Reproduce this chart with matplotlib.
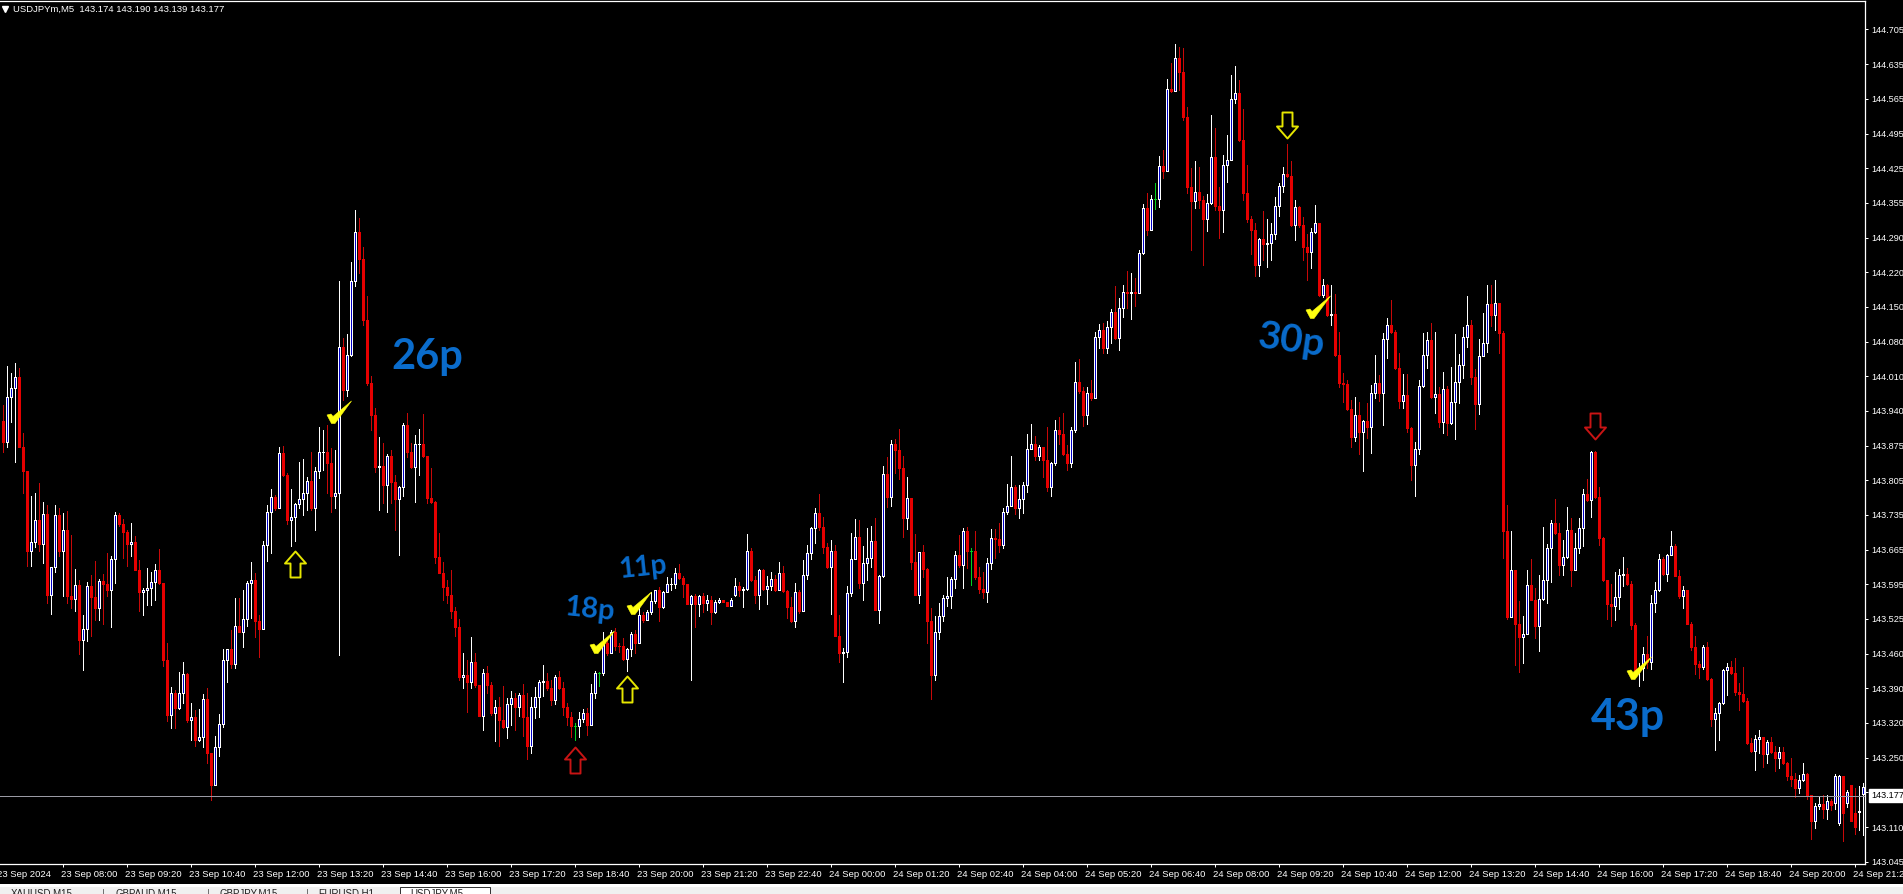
import matplotlib
matplotlib.use("Agg")
import matplotlib.pyplot as plt
from matplotlib.lines import Line2D
from matplotlib.patches import Rectangle
from matplotlib.path import Path

plt.rcParams["font.family"] = ["Liberation Sans", "DejaVu Sans"]

# prices are kept as thousandths above 143.000
base_price = 143.0
first_open = 924
closes = [
    883, 972, 990, 1012, 873, 825, 664, 682, 726, 679,
    739, 577, 632, 737, 665, 706, 575, 569, 597, 487,
    509, 595, 573, 551, 605, 599, 586, 649, 737, 719,
    702, 679, 683, 627, 582, 587, 591, 603, 627, 600,
    448, 338, 381, 352, 381, 420, 327, 333, 288, 293,
    369, 261, 198, 273, 319, 448, 469, 440, 516, 504,
    529, 601, 606, 526, 509, 677, 742, 772, 750, 860,
    816, 726, 732, 758, 768, 781, 804, 751, 824, 862,
    863, 841, 775, 780, 1071, 986, 1055, 1203, 1301, 1248,
    1126, 1000, 936, 833, 835, 797, 855, 803, 768, 793,
    916, 863, 833, 878, 879, 855, 770, 763, 652, 620,
    593, 577, 546, 513, 414, 417, 404, 444, 398, 335,
    421, 398, 341, 354, 328, 314, 359, 372, 353, 377,
    334, 276, 354, 373, 403, 405, 391, 368, 413, 391,
    354, 334, 316, 316, 329, 341, 317, 381, 421, 421,
    481, 461, 504, 476, 475, 449, 469, 499, 482, 537,
    527, 544, 565, 587, 554, 582, 598, 599, 620, 610,
    599, 560, 574, 560, 575, 562, 566, 544, 564, 566,
    564, 556, 566, 594, 586, 588, 664, 607, 577, 626,
    588, 594, 609, 587, 620, 584, 554, 525, 582, 545,
    616, 660, 710, 740, 712, 673, 632, 665, 496, 461,
    464, 580, 649, 692, 600, 640, 650, 685, 548, 614,
    818, 772, 878, 867, 831, 731, 770, 643, 577, 662,
    629, 526, 417, 504, 536, 570, 575, 609, 656, 637,
    705, 665, 665, 613, 589, 583, 641, 690, 689, 677,
    742, 755, 792, 751, 769, 796, 869, 879, 854, 873,
    847, 793, 841, 906, 899, 858, 841, 906, 1002, 984,
    936, 979, 969, 1091, 1105, 1069, 1111, 1141, 1089, 1149,
    1181, 1179, 1182, 1180, 1260, 1348, 1306, 1366, 1366, 1433,
    1423, 1586, 1583, 1649, 1621, 1530, 1391, 1363, 1380, 1365,
    1326, 1358, 1450, 1352, 1345, 1435, 1444, 1566, 1578, 1485,
    1379, 1326, 1305, 1235, 1287, 1278, 1280, 1298, 1352, 1393,
    1416, 1413, 1314, 1350, 1314, 1272, 1262, 1301, 1318, 1175,
    1195, 1135, 1137, 1056, 999, 998, 948, 893, 936, 903,
    925, 913, 980, 999, 979, 1087, 1115, 1102, 1029, 964,
    975, 911, 836, 869, 994, 1056, 1086, 972, 978, 923,
    987, 920, 962, 1002, 1035, 1091, 1115, 1012, 957, 1054,
    1079, 1157, 1135, 1159, 1099, 705, 534, 627, 520, 494,
    500, 596, 567, 515, 568, 606, 670, 720, 700, 637,
    652, 706, 627, 670, 710, 778, 767, 863, 772, 690,
    607, 559, 555, 572, 617, 618, 598, 517, 427, 431,
    459, 444, 562, 586, 649, 619, 656, 675, 615, 574,
    586, 520, 474, 439, 434, 473, 409, 329, 342, 361,
    427, 434, 421, 384, 379, 365, 282, 266, 289, 293,
    260, 283, 264, 251, 264, 241, 215, 209, 191, 207,
    220, 178, 126, 157, 160, 150, 166, 158, 215, 215,
    142, 185, 126, 115, 147, 193,
]
highs = [
    956, 1033, 1020, 1039, 1029, 901, 822, 775, 780, 801,
    763, 757, 632, 757, 750, 740, 744, 697, 628, 607,
    537, 603, 617, 644, 609, 618, 660, 654, 742, 740,
    728, 706, 720, 694, 647, 591, 630, 622, 639, 668,
    599, 481, 394, 388, 424, 444, 422, 362, 348, 349,
    380, 391, 261, 295, 340, 469, 469, 507, 571, 571,
    586, 604, 642, 620, 537, 684, 757, 788, 777, 872,
    875, 821, 788, 761, 843, 848, 813, 863, 832, 912,
    906, 916, 870, 867, 1204, 1089, 1098, 1242, 1345, 1329,
    1272, 1174, 1013, 950, 892, 880, 859, 867, 817, 795,
    920, 940, 880, 896, 908, 938, 855, 830, 765, 700,
    642, 607, 627, 554, 529, 461, 448, 493, 461, 396,
    429, 435, 404, 368, 374, 396, 371, 386, 381, 381,
    399, 381, 374, 393, 407, 437, 421, 407, 417, 426,
    404, 361, 344, 321, 344, 349, 351, 399, 426, 424,
    504, 491, 507, 511, 481, 491, 471, 504, 507, 560,
    544, 547, 582, 587, 592, 584, 612, 610, 630, 639,
    614, 595, 577, 579, 577, 580, 576, 575, 566, 570,
    566, 562, 570, 610, 602, 592, 699, 670, 614, 628,
    628, 614, 622, 617, 642, 634, 586, 572, 600, 587,
    647, 677, 713, 750, 779, 733, 680, 687, 677, 537,
    471, 595, 700, 728, 727, 675, 710, 715, 730, 617,
    834, 852, 887, 889, 909, 854, 812, 768, 699, 663,
    676, 630, 552, 535, 562, 577, 612, 613, 665, 697,
    710, 713, 670, 705, 632, 623, 650, 708, 708, 720,
    750, 798, 854, 796, 796, 802, 898, 918, 894, 876,
    873, 913, 843, 927, 933, 939, 876, 913, 1042, 1047,
    992, 992, 1006, 1102, 1117, 1119, 1124, 1147, 1193, 1169,
    1195, 1223, 1220, 1209, 1266, 1357, 1378, 1375, 1398, 1453,
    1465, 1606, 1638, 1676, 1671, 1669, 1550, 1428, 1443, 1430,
    1373, 1377, 1534, 1508, 1391, 1455, 1494, 1614, 1632, 1604,
    1546, 1435, 1333, 1318, 1290, 1342, 1326, 1318, 1370, 1398,
    1431, 1477, 1443, 1365, 1352, 1330, 1297, 1310, 1355, 1318,
    1207, 1197, 1195, 1177, 1102, 1020, 1006, 966, 971, 961,
    927, 959, 996, 1056, 1016, 1100, 1129, 1165, 1105, 1060,
    1018, 1018, 913, 883, 1006, 1099, 1102, 1120, 1102, 992,
    1022, 994, 1031, 1097, 1057, 1112, 1173, 1125, 1028, 1087,
    1139, 1195, 1195, 1205, 1159, 1103, 757, 705, 627, 565,
    535, 627, 648, 590, 617, 713, 679, 727, 768, 720,
    687, 752, 730, 700, 730, 788, 808, 864, 864, 792,
    692, 607, 599, 622, 628, 652, 630, 604, 522, 441,
    473, 495, 577, 602, 659, 653, 659, 705, 678, 627,
    595, 587, 524, 495, 446, 477, 484, 411, 351, 364,
    429, 441, 446, 451, 402, 433, 372, 291, 298, 308,
    294, 288, 294, 276, 274, 274, 244, 251, 221, 218,
    242, 222, 172, 162, 174, 178, 178, 170, 220, 217,
    215, 188, 198, 192, 195, 202,
]
lows = [
    863, 873, 923, 843, 873, 780, 635, 635, 672, 664,
    640, 561, 539, 622, 654, 575, 561, 551, 546, 460,
    428, 486, 495, 527, 527, 519, 574, 514, 601, 714,
    650, 635, 655, 627, 546, 537, 557, 557, 567, 599,
    436, 325, 311, 311, 349, 361, 323, 287, 276, 285,
    273, 241, 168, 202, 255, 313, 404, 431, 431, 504,
    473, 515, 531, 494, 453, 509, 644, 660, 747, 750,
    815, 719, 674, 685, 750, 736, 747, 747, 706, 810,
    827, 780, 742, 750, 458, 966, 974, 1053, 1194, 1219,
    1116, 996, 906, 823, 746, 760, 742, 760, 707, 657,
    775, 852, 830, 762, 817, 853, 760, 760, 640, 620,
    566, 561, 531, 495, 408, 391, 343, 391, 394, 335,
    308, 381, 338, 286, 276, 311, 291, 318, 308, 336,
    296, 249, 261, 331, 333, 376, 388, 358, 360, 389,
    338, 318, 293, 288, 294, 324, 298, 318, 371, 396,
    417, 457, 461, 467, 464, 447, 426, 455, 462, 481,
    524, 527, 540, 562, 526, 552, 582, 586, 590, 608,
    572, 559, 408, 514, 535, 544, 547, 519, 542, 562,
    563, 555, 560, 574, 574, 554, 586, 604, 562, 550,
    586, 559, 587, 585, 586, 582, 532, 524, 514, 542,
    546, 608, 649, 680, 707, 660, 630, 539, 495, 444,
    404, 454, 574, 648, 590, 567, 607, 632, 548, 522,
    612, 752, 754, 821, 809, 692, 709, 628, 577, 562,
    613, 482, 369, 407, 490, 526, 555, 552, 590, 633,
    590, 630, 597, 608, 581, 570, 564, 629, 651, 663,
    670, 738, 754, 738, 730, 740, 783, 869, 847, 846,
    813, 785, 775, 836, 879, 856, 826, 832, 903, 979,
    914, 918, 965, 978, 1069, 1060, 1060, 1080, 1087, 1066,
    1132, 1149, 1128, 1153, 1181, 1258, 1295, 1305, 1347, 1350,
    1408, 1423, 1581, 1588, 1584, 1524, 1378, 1266, 1348, 1348,
    1235, 1303, 1357, 1345, 1290, 1302, 1401, 1445, 1559, 1483,
    1365, 1320, 1257, 1213, 1213, 1245, 1231, 1245, 1288, 1333,
    1381, 1411, 1313, 1285, 1312, 1246, 1205, 1230, 1300, 1173,
    1172, 1133, 1115, 1054, 992, 962, 946, 873, 885, 859,
    825, 891, 861, 969, 963, 916, 1049, 1100, 1027, 949,
    949, 903, 806, 775, 859, 991, 1029, 969, 939, 913,
    901, 896, 918, 888, 960, 1010, 1072, 998, 908, 938,
    1055, 1062, 1113, 1105, 1060, 650, 530, 534, 437, 424,
    442, 500, 567, 492, 466, 567, 562, 602, 699, 617,
    616, 650, 594, 626, 661, 675, 765, 733, 770, 677,
    604, 530, 515, 527, 550, 594, 597, 510, 424, 395,
    407, 431, 429, 544, 585, 617, 605, 656, 614, 570,
    552, 519, 467, 419, 411, 429, 407, 316, 268, 288,
    360, 377, 419, 377, 348, 364, 280, 264, 227, 261,
    234, 242, 262, 225, 231, 240, 208, 195, 175, 183,
    205, 170, 90, 113, 150, 133, 130, 148, 150, 118,
    87, 155, 126, 100, 108, 98,
]
# bars whose open is not the previous close
open_gaps = {183: 576, 458: 162, 459: 123, 461: 163, 462: 198, 463: 142, 464: 145, 465: 180}

y_tick_labels = ["144.705", "144.635", "144.565", "144.495", "144.425", "144.355", "144.290",
                 "144.220", "144.150", "144.080", "144.010", "143.940", "143.875", "143.805",
                 "143.735", "143.665", "143.595", "143.525", "143.460", "143.390", "143.320",
                 "143.250", "", "143.110", "143.045"]
x_tick_labels = ["23 Sep 2024", "23 Sep 08:00", "23 Sep 09:20", "23 Sep 10:40", "23 Sep 12:00",
                 "23 Sep 13:20", "23 Sep 14:40", "23 Sep 16:00", "23 Sep 17:20", "23 Sep 18:40",
                 "23 Sep 20:00", "23 Sep 21:20", "23 Sep 22:40", "24 Sep 00:00", "24 Sep 01:20",
                 "24 Sep 02:40", "24 Sep 04:00", "24 Sep 05:20", "24 Sep 06:40", "24 Sep 08:00",
                 "24 Sep 09:20", "24 Sep 10:40", "24 Sep 12:00", "24 Sep 13:20", "24 Sep 14:40",
                 "24 Sep 16:00", "24 Sep 17:20", "24 Sep 18:40", "24 Sep 20:00", "24 Sep 21:20"]
last_price = 143.177

# notes drawn on the chart: bar index and thousandths above 143
up_arrows = [(73, 639, "#e6e600"), (143, 248, "#c81414"), (156, 390, "#e6e600")]
down_arrows = [(321, 1515, "#e6e600"), (398, 914, "#c81414")]
checks = [(82.3, 923), (148.2, 464), (157.3, 541), (327.1, 1132), (407.3, 412)]
notes = [("26p", 106.2, 1052, 30, 0), ("18p", 146.7, 547, 21, -6), ("11p", 160, 631, 20, 6),
         ("30p", 322.2, 1084, 28, -8), ("43p", 406.4, 334, 31, 0)]
tabs = [("XAUUSD,M15", 11), ("GBPAUD,M15", 115), ("GBPJPY,M15", 220), ("EURUSD,H1", 318), ("USDJPY,M5", 410)]

W, H = 1903, 894


def price(v):
    return base_price + v / 1000


fig = plt.figure(figsize=(W / 100, H / 100), dpi=100, facecolor="black")
ax = fig.add_axes([0, 1 - 864 / H, 1865 / W, 863 / H], facecolor="black")

n = len(closes)
xs = list(range(n))
opens = [first_open] + closes[:-1]
for k, v in open_gaps.items():
    opens[k] = v

wick_colors = []
body_face = []
body_edge = []
for i in xs:
    if closes[i] > opens[i]:
        wick_colors.append("white")
        body_face.append("#0000c8")
        body_edge.append("white")
    elif closes[i] < opens[i]:
        wick_colors.append("#c80808")
        body_face.append("#e60000")
        body_edge.append("#e60000")
    else:
        wick_colors.append("#00d020")
        body_face.append("#00d020")
        body_edge.append("#00d020")

top = [price(max(highs[i], opens[i], closes[i])) for i in xs]
bot = [price(min(lows[i], opens[i], closes[i])) for i in xs]
ax.vlines(xs, bot, top, colors=wick_colors, linewidth=0.72, antialiased=False, zorder=2)

body_low = [price(min(opens[i], closes[i])) for i in xs]
body_h = [abs(closes[i] - opens[i]) / 1000 for i in xs]
ax.bar(xs, body_h, bottom=body_low, width=0.5, color=body_face, edgecolor=body_edge,
       linewidth=0.72, antialiased=False, zorder=3)

ax.axhline(last_price, color="#9a9aa4", linewidth=0.72, zorder=4)

# arrows
up_path = Path([(0, 13), (10.5, 1), (5, 1), (5, -13), (-5, -13), (-5, 1), (-10.5, 1), (0, 13)], closed=True)
down_path = Path([(0, -13), (10.5, -1), (5, -1), (5, 13), (-5, 13), (-5, -1), (-10.5, -1), (0, -13)], closed=True)
for b, p, c in up_arrows:
    ax.plot([b], [price(p)], marker=up_path, ms=18.72, mfc="none", mec=c, mew=1.4, zorder=5)
for b, p, c in down_arrows:
    ax.plot([b], [price(p)], marker=down_path, ms=18.72, mfc="none", mec=c, mew=1.4, zorder=5)

# yellow ticks
check_path = Path([(-5.5, 7.5), (-1.5, 8.5), (0.5, 6), (19, 21.5), (2.5, -1), (-1, -1), (-5.5, 7.5)], closed=True)
for b, p in checks:
    ax.plot([b], [price(p)], marker=check_path, ms=30.96, mfc="#ffff10", mec="#ffff10", mew=0.4, zorder=6)

for txt, b, p, size, rot in notes:
    ax.text(b, price(p), txt, color="#0a6ccc", fontsize=size, fontweight="bold", rotation=rot,
            family="Lato", ha="center", va="center", zorder=6)

ax.set_xlim(-0.625, 465.625)
ax.set_ylim(143.0404, 144.7618)

ax.spines["left"].set_visible(False)
for s in ["top", "right", "bottom"]:
    ax.spines[s].set_color("white")
    ax.spines[s].set_linewidth(0.9)

y_ticks = [143.045 + (144.705 - 143.045) * (24 - k) / 24 for k in range(25)]
ax.yaxis.tick_right()
ax.set_yticks(y_ticks)
ax.set_yticklabels(y_tick_labels)
ax.tick_params(axis="y", colors="white", length=2.2, width=0.72, pad=2.5, labelsize=6.6)

x_ticks = [-1 + 16 * k for k in range(len(x_tick_labels))]
ax.set_xticks(x_ticks[1:])
ax.set_xticklabels([])
ax.tick_params(axis="x", colors="white", length=2.2, width=0.72)
for t, lab in zip(x_ticks, x_tick_labels):
    ax.annotate(lab, xy=(t, 0), xycoords=ax.get_xaxis_transform(), xytext=(-0.8, -4.3),
                textcoords="offset points", ha="left", va="top", color="white", fontsize=6.8,
                annotation_clip=False)

ax.annotate("143.177", xy=(1, last_price), xycoords=ax.get_yaxis_transform(), xytext=(4.4, 0),
            textcoords="offset points", ha="left", va="center", color="black", fontsize=6.6,
            bbox=dict(fc="white", ec="white", pad=1.5), annotation_clip=False, zorder=8)

# header line
fig.add_artist(Line2D([4.5 / W], [1 - 9 / H], marker="v", ms=4.5, color="white", linestyle="none"))
fig.text(13 / W, 1 - 9 / H, "USDJPYm,M5  143.174 143.190 143.139 143.177", color="white",
         fontsize=6.8, va="center", ha="left")

# tab strip at the bottom, cut off by the window edge
fig.add_artist(Rectangle((0, 7 / H), 1, 3 / H, transform=fig.transFigure, fc="white", ec="none"))
fig.add_artist(Rectangle((0, 0), 1, 7 / H, transform=fig.transFigure, fc="#f0f0f0", ec="none"))
fig.add_artist(Rectangle((400 / W, 0), 90 / W, 7 / H, transform=fig.transFigure, fc="white", ec="#303030", lw=0.7))
for sep in [103, 208, 307]:
    fig.add_artist(Line2D([sep / W, sep / W], [0, 5 / H], color="#707070", lw=0.7))
for lab, px in tabs:
    fig.text(px / W, 0 / H, lab, color="#202020", fontsize=7, va="center", ha="left")

fig.savefig("out.png", dpi=100, facecolor="black")
